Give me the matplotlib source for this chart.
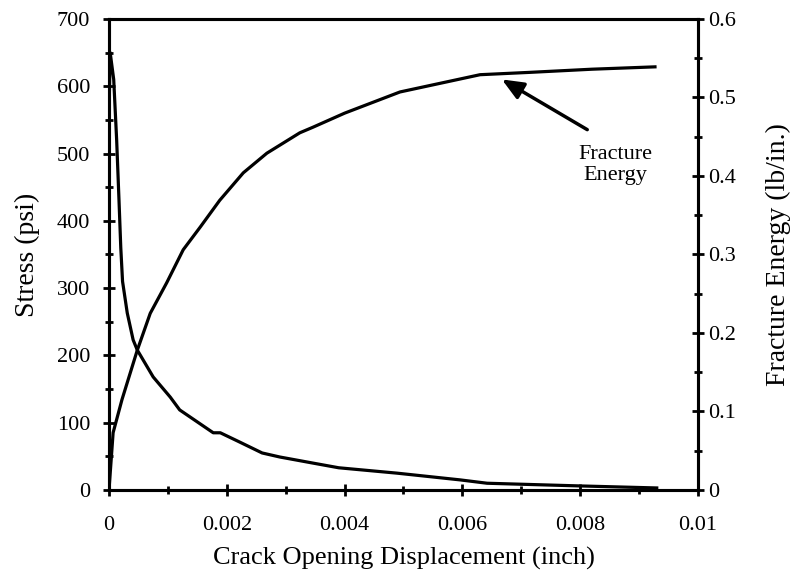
import numpy as np
import matplotlib
matplotlib.use("Agg")
import matplotlib.pyplot as plt
from matplotlib.ticker import MultipleLocator

plt.rcParams['font.family'] = ['Liberation Serif', 'DejaVu Serif']

# stress vs crack opening displacement (psi)
cod_stress = [0.0, 0.00002, 0.00008, 0.00013, 0.00017, 0.0002, 0.00023, 0.00031,
              0.00041, 0.00048, 0.00075, 0.00104, 0.0012, 0.00177, 0.00189, 0.0022,
              0.0026, 0.0029, 0.00346, 0.0039, 0.00489, 0.00596, 0.00642, 0.008, 0.0093]
stress = [560, 650, 610, 520, 430, 360, 310, 263, 223, 208, 168, 138, 119, 85, 85, 72,
          55, 49, 40, 33, 25, 15, 10, 6, 3]

# fracture energy vs crack opening displacement (lb/in.)
cod_energy = [0.0, 0.00007, 0.00022, 0.00048, 0.0007, 0.00098, 0.00126, 0.00155,
              0.00188, 0.00228, 0.00268, 0.00324, 0.00346, 0.004, 0.00494, 0.0063,
              0.00715, 0.0082, 0.00927]
energy = [0.0, 0.073, 0.115, 0.178, 0.225, 0.264, 0.306, 0.335, 0.369, 0.404, 0.429,
          0.455, 0.462, 0.48, 0.507, 0.529, 0.532, 0.536, 0.539]

fig = plt.figure(figsize=(7.91, 5.73), dpi=100)
ax = fig.add_axes([0.1378, 0.1449, 0.7446, 0.822])
ax2 = ax.twinx()

ax.plot(cod_stress, stress, color='black', lw=2.3, solid_joinstyle='round')
ax2.plot(cod_energy, energy, color='black', lw=2.3, solid_joinstyle='round')

ax.set_xlim(0, 0.01)
ax.set_ylim(0, 700)
ax2.set_ylim(0, 0.6)

ax.xaxis.set_minor_locator(MultipleLocator(0.001))
ax.yaxis.set_major_locator(MultipleLocator(100))
ax.yaxis.set_minor_locator(MultipleLocator(50))
ax2.yaxis.set_minor_locator(MultipleLocator(0.05))

ax.set_xticks([0, 0.002, 0.004, 0.006, 0.008, 0.01])
ax.set_xticklabels(['0', '0.002', '0.004', '0.006', '0.008', '0.01'])
ax2.set_yticks([0, 0.1, 0.2, 0.3, 0.4, 0.5, 0.6])
ax2.set_yticklabels(['0', '0.1', '0.2', '0.3', '0.4', '0.5', '0.6'])

for a in (ax, ax2):
    for s in a.spines.values():
        s.set_linewidth(2.2)
    a.tick_params(which='major', direction='inout', length=9, width=2, labelsize=16)
    a.tick_params(which='minor', direction='inout', length=6, width=2)
ax.tick_params(axis='x', which='both', top=False)
ax.tick_params(axis='x', which='major', pad=14)
ax.tick_params(axis='y', which='both', right=False)
ax.tick_params(axis='y', which='major', pad=9)
ax2.tick_params(axis='y', which='major', pad=3)

ax.set_xlabel('Crack Opening Displacement (inch)', fontsize=19, labelpad=9)
ax.set_ylabel('Stress (psi)', fontsize=20, labelpad=12)
ax2.set_ylabel('Fracture Energy (lb/in.)', fontsize=20, labelpad=21)

# arrow pointing at the energy curve, label below it
ax2.annotate('', xy=(0.00667, 0.523), xytext=(0.00812, 0.459),
             arrowprops=dict(arrowstyle='-|>,head_length=1.3,head_width=0.55',
                             color='black', lw=2.5, shrinkA=0, shrinkB=0))
ax2.text(0.00859, 0.414, 'Fracture\nEnergy', ha='center', va='center',
         fontsize=16, linespacing=1.15)

fig.savefig('out.png', dpi=100)
